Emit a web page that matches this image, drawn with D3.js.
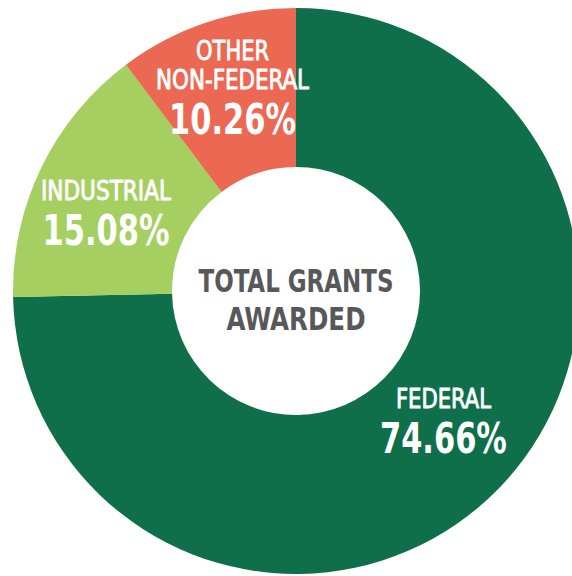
<!DOCTYPE html>
<html>
<head>
<meta charset="utf-8">
<script src="https://cdn.jsdelivr.net/npm/d3@7"></script>
<style>
  html, body { margin: 0; padding: 0; background: #fff; }
  svg { display: block; }
  text { font-family: "Liberation Sans Narrow", "DejaVu Sans Condensed", "Open Sans", sans-serif; }
</style>
</head>
<body>
<svg id="chart" width="572" height="576"></svg>
<script>
// ---- data ----
const categories = ["FEDERAL", "INDUSTRIAL", "OTHER NON-FEDERAL"];
const nameLines = [["FEDERAL"], ["INDUSTRIAL"], ["OTHER", "NON-FEDERAL"]];
const values = [74.66, 15.08, 10.26];
const colors = ["#0e6f4a", "#a6cf62", "#eb6853"];
const centerLines = ["TOTAL GRANTS", "AWARDED"];

// ---- layout ----
const cx = 296, cy = 291, outerR = 283, innerR = 124;
// label tweaks: offsets from arc centroid and text widths
const labelStyle = [
  { dx: 2,  dy: -16, nameW: [95],       pctW: 127 },
  { dx: -7, dy: 7,   nameW: [130],      pctW: 127 },
  { dx: 1,  dy: -14, nameW: [73, 153],  pctW: 127 }
];

const svg = d3.select("#chart");
const g = svg.append("g").attr("transform", `translate(${cx},${cy})`);

const pie = d3.pie().sort(null).value(d => d.value).startAngle(0).endAngle(2 * Math.PI);
const data = categories.map((c, i) => ({ name: c, value: values[i], i }));
const arcs = pie(data);
const arc = d3.arc().innerRadius(innerR).outerRadius(outerR);
const labelArc = d3.arc().innerRadius((innerR + outerR) / 2).outerRadius((innerR + outerR) / 2);

g.selectAll("path.slice")
  .data(arcs)
  .join("path")
  .attr("class", "slice")
  .attr("d", arc)
  .attr("fill", d => colors[d.data.i]);

// slice labels
const fmt = v => d3.format(".2f")(v) + "%";
arcs.forEach(d => {
  const i = d.data.i;
  const st = labelStyle[i];
  const [x, y] = labelArc.centroid(d);
  const lines = nameLines[i];
  const lx = x + st.dx;
  const nameH = 29;
  const total = lines.length * nameH + 43;
  let top = y + st.dy - total / 2;
  lines.forEach((ln, k) => {
    g.append("text")
      .attr("x", lx)
      .attr("y", top + (k + 1) * nameH - 2)
      .attr("text-anchor", "middle")
      .attr("fill", "#fff")
      .attr("stroke", "#fff")
      .attr("stroke-width", 0.8)
      .attr("font-size", 26)
      .attr("textLength", st.nameW[k])
      .attr("lengthAdjust", "spacingAndGlyphs")
      .text(ln);
  });
  g.append("text")
    .attr("x", lx)
    .attr("y", top + lines.length * nameH + 43)
    .attr("text-anchor", "middle")
    .attr("fill", "#fff")
    .attr("font-size", 42)
    .attr("font-weight", "bold")
    .attr("textLength", st.pctW)
    .attr("lengthAdjust", "spacingAndGlyphs")
    .text(fmt(values[i]));
});

// center text
const centerW = [195, 139];
centerLines.forEach((ln, k) => {
  g.append("text")
    .attr("x", 0)
    .attr("y", 1 + k * 37.5)
    .attr("text-anchor", "middle")
    .attr("fill", "#58585a")
    .attr("font-size", 32)
    .attr("font-weight", "bold")
    .attr("textLength", centerW[k])
    .attr("lengthAdjust", "spacingAndGlyphs")
    .text(ln);
});
</script>
</body>
</html>
